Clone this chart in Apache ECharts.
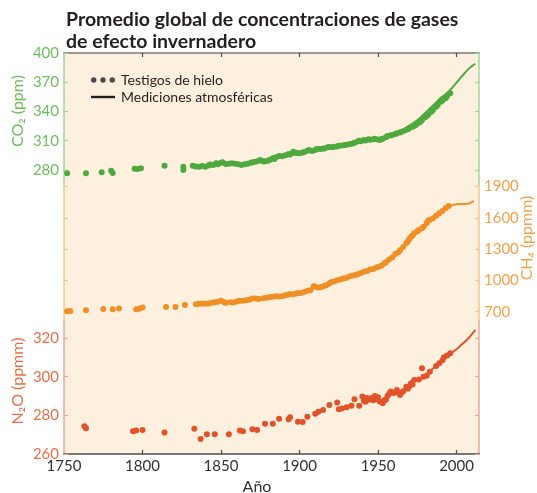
<!DOCTYPE html>
<html>
<head>
<meta charset="utf-8">
<script src="https://cdn.jsdelivr.net/npm/echarts@6/dist/echarts.min.js"></script>
<style>
  html, body { margin: 0; padding: 0; background: #ffffff; }
  #chart { width: 537px; height: 493px; }
</style>
</head>
<body>
<div id="chart"></div>
<script>
// Year axis ticks
const yearTicks = [1750, 1800, 1850, 1900, 1950, 2000];

// CO2 (ppm)
const co2Ticks = [280, 310, 340, 370, 400];
const co2IceCore = [
  [1752, 276.6], [1764, 276.6], [1774, 277.8], [1780, 279.3], [1781, 276.9],
  [1795, 281.3], [1797, 281.0], [1799, 281.7], [1814, 284.4], [1826, 283.4],
  [1826, 280.0], [1832, 284.4], [1834, 283.7], [1836, 283.4], [1838, 284.0],
  [1840, 283.2], [1842, 284.6], [1843, 285.6], [1845, 285.1], [1847, 286.8],
  [1848, 286.0], [1850, 287.5], [1851, 287.9], [1853, 286.2], [1855, 286.4],
  [1857, 286.9], [1859, 286.3], [1861, 285.8], [1863, 285.1], [1865, 285.8],
  [1867, 286.5], [1869, 287.5], [1870, 288.0], [1872, 288.4], [1874, 289.6],
  [1875, 290.2], [1877, 288.8], [1878, 289.0], [1880, 289.5], [1881, 290.6],
  [1883, 292.0], [1884, 291.3], [1885, 293.0], [1887, 294.4], [1889, 294.0],
  [1891, 295.1], [1893, 296.4], [1894, 295.8], [1896, 298.8], [1897, 297.5],
  [1898, 297.8], [1900, 297.1], [1902, 297.9], [1903, 298.5], [1905, 299.8],
  [1906, 300.5], [1908, 299.6], [1910, 300.5], [1911, 301.5], [1913, 301.5],
  [1915, 301.8], [1916, 302.2], [1918, 303.2], [1919, 303.6], [1921, 303.4],
  [1922, 303.9], [1924, 304.2], [1925, 304.9], [1927, 305.1], [1929, 305.6],
  [1930, 306.0], [1932, 306.7], [1934, 307.2], [1935, 308.0], [1937, 309.2],
  [1938, 310.0], [1939, 309.6], [1941, 310.8], [1942, 310.2], [1944, 311.5],
  [1945, 311.0], [1947, 311.5], [1948, 312.0], [1950, 311.4], [1951, 310.8],
  [1952, 311.6], [1953, 312.1], [1955, 313.6], [1956, 314.9], [1958, 315.3],
  [1959, 315.9], [1961, 317.0], [1962, 317.6], [1964, 318.4], [1965, 319.3],
  [1967, 320.6], [1969, 321.7], [1970, 323.0], [1972, 324.4], [1973, 325.3],
  [1974, 326.2], [1976, 328.5], [1977, 329.4], [1978, 331.3], [1980, 334.0],
  [1981, 335.5], [1982, 337.0], [1984, 339.8], [1985, 341.6], [1987, 344.9],
  [1988, 346.7], [1990, 350.1], [1991, 351.4], [1993, 353.5], [1994, 356.0],
  [1996, 358.7]
];
const co2Measured = [
  [1958, 315.0], [1960, 316.9], [1963, 319.0], [1966, 321.4], [1969, 324.6],
  [1972, 327.5], [1975, 331.1], [1978, 335.4], [1981, 340.1], [1984, 344.7],
  [1987, 349.2], [1990, 354.0], [1993, 357.5], [1996, 362.3], [1999, 367.8],
  [2002, 373.5], [2005, 379.0], [2008, 384.2], [2010, 386.8], [2012, 389.0]
];

// CH4 (ppb)
const ch4Ticks = [700, 1000, 1300, 1600, 1900];
const ch4IceCore = [
  [1752, 705], [1754, 708], [1764, 714], [1775, 727], [1781, 724],
  [1785, 731], [1796, 724], [1798, 728], [1800, 740], [1815, 746],
  [1821, 746], [1827, 765], [1834, 772], [1836, 776], [1838, 779],
  [1840, 776], [1842, 779], [1844, 785], [1846, 791], [1848, 795],
  [1850, 804], [1852, 790], [1853, 785], [1856, 790], [1858, 788],
  [1860, 798], [1862, 804], [1864, 806], [1866, 810], [1868, 815],
  [1870, 827], [1872, 826], [1874, 823], [1877, 829], [1879, 833],
  [1881, 842], [1883, 844], [1885, 849], [1887, 846], [1889, 848],
  [1891, 858], [1893, 864], [1894, 868], [1896, 868], [1898, 874],
  [1899, 880], [1901, 880], [1903, 889], [1905, 900], [1907, 905],
  [1909, 945], [1910, 940], [1912, 932], [1914, 936], [1916, 950],
  [1917, 954], [1919, 970], [1920, 983], [1922, 990], [1924, 1002],
  [1926, 1008], [1928, 1018], [1930, 1025], [1932, 1041], [1934, 1046],
  [1936, 1055], [1937, 1060], [1939, 1070], [1941, 1082], [1943, 1090],
  [1945, 1105], [1947, 1110], [1949, 1124], [1950, 1128], [1952, 1140],
  [1954, 1163], [1955, 1175], [1957, 1201], [1959, 1220], [1961, 1252],
  [1963, 1270], [1964, 1290], [1966, 1320], [1968, 1355], [1969, 1375],
  [1970, 1400], [1971, 1418], [1972, 1430], [1973, 1451], [1975, 1470],
  [1976, 1482], [1978, 1500], [1979, 1514], [1981, 1550], [1982, 1575],
  [1983, 1578], [1985, 1595], [1987, 1620], [1989, 1643], [1991, 1665],
  [1993, 1691], [1995, 1713]
];
const ch4Measured = [
  [1983, 1585], [1986, 1618], [1989, 1648], [1992, 1688], [1995, 1712],
  [1998, 1724], [2001, 1732], [2004, 1732], [2007, 1735], [2009, 1745],
  [2011, 1762]
];

// N2O (ppb)
const n2oTicks = [260, 280, 300, 320];
const n2oIceCore = [
  [1763, 274.4], [1764, 273.3], [1794, 271.8], [1796, 272.1], [1800, 272.4],
  [1814, 271.1], [1833, 273.1], [1837, 267.8], [1841, 270.2], [1846, 270.2],
  [1855, 270.2], [1862, 272.1], [1864, 271.8], [1870, 272.8], [1873, 272.4],
  [1878, 275.6], [1883, 275.6], [1887, 278.2], [1893, 278.0], [1894, 279.0],
  [1899, 276.7], [1902, 276.5], [1905, 279.3], [1910, 280.8], [1912, 281.9],
  [1915, 282.8], [1919, 285.4], [1924, 286.6], [1925, 283.2], [1927, 283.6],
  [1930, 284.2], [1933, 284.9], [1935, 288.3], [1938, 284.9], [1940, 289.7],
  [1941, 287.5], [1942, 287.0], [1943, 289.0], [1944, 288.0], [1946, 289.0],
  [1947, 287.8], [1948, 290.0], [1949, 288.5], [1950, 289.3], [1951, 287.1],
  [1953, 286.3], [1954, 287.8], [1955, 288.0], [1956, 290.0], [1957, 291.0],
  [1958, 292.3], [1960, 291.5], [1961, 292.0], [1962, 293.1], [1964, 290.5],
  [1965, 291.8], [1966, 292.5], [1968, 294.8], [1969, 293.8], [1970, 295.0],
  [1971, 296.6], [1972, 296.0], [1973, 298.3], [1976, 298.5], [1978, 304.3],
  [1979, 300.0], [1981, 300.5], [1983, 302.6], [1987, 305.5], [1989, 306.9],
  [1991, 308.5], [1992, 310.0], [1994, 311.0], [1996, 312.1]
];
const n2oMeasured = [
  [1978, 299.5], [1983, 302.8], [1989, 307.2], [1995, 311.2], [2000, 314.2],
  [2003, 316.5], [2006, 318.6], [2009, 321.2], [2012, 324.2]
];

const FONT = "Lato, 'Liberation Sans', Arial, sans-serif";
const GREEN = '#4ea93f', GREEN_TXT = '#6cbd5c', GREEN_LINE = '#a4d796';
const ORANGE = '#ee9026', ORANGE_TXT = '#f2a24a', ORANGE_LINE = '#f6c58f';
const RED = '#e2532b', RED_TXT = '#ea6e4c', RED_LINE = '#f1a793';
const PLOT_L = 64, PLOT_W = 415;
const YEAR_MIN = 1750, YEAR_MAX = 2014.3;
const plain = (v) => String(v);

function bandXAxis(gridIndex) {
  return { gridIndex, type: 'value', min: YEAR_MIN, max: YEAR_MAX, show: false };
}

function bandYAxis(gridIndex, position, min, max, ticks, lineColor, labelColor, showLabels) {
  return {
    gridIndex, type: 'value', position, min, max,
    splitLine: { show: false },
    axisLine: { show: true, onZero: false, lineStyle: { color: lineColor, width: 1.5 } },
    axisTick: { show: true, inside: true, length: 4, customValues: ticks, lineStyle: { color: lineColor, width: 1.2 } },
    axisLabel: {
      show: showLabels, customValues: ticks, color: labelColor, formatter: plain,
      fontFamily: FONT, fontSize: 15, margin: 5
    }
  };
}

const dotStyle = (color) => ({
  type: 'scatter', symbol: 'circle', symbolSize: 6, clip: false,
  itemStyle: { color, opacity: 1 }, z: 3
});
const lineStyle = (color) => ({
  type: 'line', showSymbol: false, smooth: true, clip: false,
  lineStyle: { color, width: 2 }, z: 2
});

const gridBase = { left: PLOT_L, width: PLOT_W, outerBoundsMode: 'none', containLabel: false };

const chart = echarts.init(document.getElementById('chart'), null, { renderer: 'canvas' });

chart.setOption({
  animation: false,
  backgroundColor: '#ffffff',
  title: {
    text: 'Promedio global de concentraciones de gases\nde efecto invernadero',
    left: 61, top: 4,
    textStyle: { fontFamily: FONT, fontWeight: 'bold', fontSize: 19.5, lineHeight: 22, color: '#231f20' }
  },
  legend: {
    orient: 'vertical', left: 86, top: 68, itemGap: 3,
    itemWidth: 24, itemHeight: 6,
    textStyle: { fontFamily: FONT, fontSize: 14, color: '#231f20', padding: [0, 0, 0, 1] },
    data: [
      { name: 'Testigos de hielo',
        icon: 'path://M0,2.5a2.5,2.5 0 1,0 5,0a2.5,2.5 0 1,0 -5,0ZM8.5,2.5a2.5,2.5 0 1,0 5,0a2.5,2.5 0 1,0 -5,0ZM17,2.5a2.5,2.5 0 1,0 5,0a2.5,2.5 0 1,0 -5,0Z' },
      { name: 'Mediciones atmosféricas', icon: 'path://M0,0H22V2.2H0Z' }
    ]
  },
  grid: [
    Object.assign({ top: 53, height: 401, show: true, backgroundColor: '#fdf0de', borderWidth: 0 }, gridBase),
    Object.assign({ top: 53, height: 132 }, gridBase),
    Object.assign({ top: 185, height: 136 }, gridBase),
    Object.assign({ top: 321, height: 133 }, gridBase)
  ],
  xAxis: [
    {
      gridIndex: 0, type: 'value', position: 'bottom', min: YEAR_MIN, max: YEAR_MAX,
      splitLine: { show: false },
      axisLine: { show: true, onZero: false, lineStyle: { color: '#4d4d4d', width: 1.5 } },
      axisTick: { show: true, inside: true, length: 4, customValues: yearTicks.slice(1), lineStyle: { color: '#4d4d4d', width: 1.2 } },
      axisLabel: { customValues: yearTicks, formatter: plain, color: '#333333', fontFamily: FONT, fontSize: 15, margin: 5 },
      name: 'Año', nameLocation: 'middle', nameGap: 21,
      nameTextStyle: { color: '#333333', fontFamily: FONT, fontSize: 16, padding: [0, 29, 0, 0] }
    },
    {
      gridIndex: 0, type: 'value', position: 'top', min: YEAR_MIN, max: YEAR_MAX,
      splitLine: { show: false },
      axisLine: { show: true, onZero: false, lineStyle: { color: '#7a7a7a', width: 1.5 } },
      axisTick: { show: true, inside: true, length: 4, customValues: yearTicks.slice(1), lineStyle: { color: '#4d4d4d', width: 1.2 } },
      axisLabel: { show: false }
    },
    bandXAxis(1), bandXAxis(2), bandXAxis(3)
  ],
  yAxis: [
    { gridIndex: 0, type: 'value', min: 0, max: 1, show: false },
    bandYAxis(1, 'left', 264.6, 400, co2Ticks, GREEN_LINE, GREEN_TXT, true),
    bandYAxis(1, 'right', 264.6, 400, co2Ticks, GREEN_LINE, GREEN_TXT, false),
    bandYAxis(2, 'left', 611, 1914.4, ch4Ticks, ORANGE_LINE, ORANGE_TXT, false),
    bandYAxis(2, 'right', 611, 1914.4, ch4Ticks, ORANGE_LINE, ORANGE_TXT, true),
    bandYAxis(3, 'left', 260, 328.8, n2oTicks, RED_LINE, RED_TXT, true),
    bandYAxis(3, 'right', 260, 328.8, n2oTicks, RED_LINE, RED_TXT, false)
  ],
  graphic: [
    { type: 'text', x: 18, y: 111, rotation: Math.PI / 2,
      style: { text: 'CO₂ (ppm)', fill: GREEN_TXT, font: "16px " + FONT, align: 'center', verticalAlign: 'middle' } },
    { type: 'text', x: 527, y: 238, rotation: Math.PI / 2,
      style: { text: 'CH₄ (ppmm)', fill: ORANGE_TXT, font: "16px " + FONT, align: 'center', verticalAlign: 'middle' } },
    { type: 'text', x: 18, y: 381, rotation: Math.PI / 2,
      style: { text: 'N₂O (ppmm)', fill: RED_TXT, font: "16px " + FONT, align: 'center', verticalAlign: 'middle' } }
  ],
  series: [
    Object.assign({ name: 'CO₂ mediciones', xAxisIndex: 2, yAxisIndex: 1, data: co2Measured }, lineStyle(GREEN)),
    Object.assign({ name: 'CO₂ testigos', xAxisIndex: 2, yAxisIndex: 1, data: co2IceCore }, dotStyle(GREEN)),
    Object.assign({ name: 'CH₄ mediciones', xAxisIndex: 3, yAxisIndex: 4, data: ch4Measured }, lineStyle(ORANGE)),
    Object.assign({ name: 'CH₄ testigos', xAxisIndex: 3, yAxisIndex: 4, data: ch4IceCore }, dotStyle(ORANGE)),
    Object.assign({ name: 'N₂O mediciones', xAxisIndex: 4, yAxisIndex: 5, data: n2oMeasured }, lineStyle(RED)),
    Object.assign({ name: 'N₂O testigos', xAxisIndex: 4, yAxisIndex: 5, data: n2oIceCore }, dotStyle(RED)),
    // legend entries
    { name: 'Testigos de hielo', type: 'scatter', xAxisIndex: 2, yAxisIndex: 1, data: [], itemStyle: { color: '#231f20' } },
    { name: 'Mediciones atmosféricas', type: 'line', xAxisIndex: 2, yAxisIndex: 1, data: [],
      itemStyle: { color: '#231f20' }, lineStyle: { color: '#231f20' } }
  ]
});
</script>
</body>
</html>
